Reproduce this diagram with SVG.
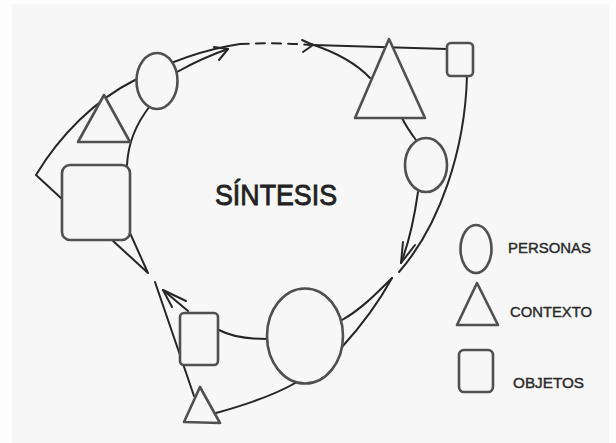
<svg xmlns="http://www.w3.org/2000/svg" width="616" height="443" viewBox="0 0 616 443">
<defs>
<style>
.shape{fill:#f7f7f7;stroke:#505050;stroke-width:2.6;stroke-linejoin:round}
.ln{fill:none;stroke:#262626;stroke-width:2;stroke-linecap:round;stroke-linejoin:round}
.dash{stroke-dasharray:9 7}
.lbl{font-family:"Liberation Sans",Arial,sans-serif;font-size:14px;fill:#2a2a2a;stroke:#2a2a2a;stroke-width:0.4}
.title{font-family:"Liberation Sans",Arial,sans-serif;font-size:30px;fill:#222;stroke:#222;stroke-width:0.9}
</style>
</defs>
<rect width="616" height="443" fill="#fdfdfd"/>
<rect x="12" y="4" width="597" height="439" fill="#f7f7f7"/>
<g id="connectors">
<path class="ln" d="M62,199 L36,175 C60,135 95,100 135,80 C165,64 200,50 240,44"/>
<path class="ln dash" d="M240,44 C262,43 290,43 310,45"/>
<path class="ln" d="M302,40 L313,45 L303,52"/>
<path class="ln" d="M313,45 L447,49"/>
<path class="ln" d="M311,44 C335,52 355,62 370,78"/>
<path class="ln" d="M127,165 C128,145 135,125 150,106"/>
<path class="ln" d="M177,72 C195,62 210,55 228,49"/>
<path class="ln" d="M214,47 L228,49 L219,60"/>
<path class="ln" d="M402,118 C406,126 410,132 416,140"/>
<path class="ln" d="M418,192 C414,220 408,245 401,263"/>
<path class="ln" d="M403,242 L401,263 L415,245"/>
<path class="ln" d="M467,76 C465,150 440,225 399,272"/>
<path class="ln" d="M392,278 C375,295 360,310 342,320"/>
<path class="ln" d="M392,278 C380,300 362,325 342,347"/>
<path class="ln" d="M219,330 C232,337 250,339 267,339"/>
<path class="ln" d="M216,413 C245,405 275,395 297,382"/>
<path class="ln" d="M155,282 L194,396"/>
<path class="ln" d="M188,311 L163,290"/>
<path class="ln" d="M186,301 L163,290 L172,307"/>
<path class="ln" d="M112,240 L148,273 L130,233"/>
</g>
<g id="oval-top"><ellipse class="shape" cx="157" cy="81" rx="20.5" ry="28"/></g>
<g id="triangle-left"><polygon class="shape" points="104,95 78,142 130,142"/></g>
<g id="square-left"><rect class="shape" x="62" y="165" width="68" height="75" rx="8"/></g>
<g id="triangle-top"><polygon class="shape" points="389,39 355,118 425,118"/></g>
<g id="square-top"><rect class="shape" x="447" y="43" width="26" height="33" rx="4"/></g>
<g id="oval-right"><ellipse class="shape" cx="426" cy="165" rx="21" ry="27"/></g>
<g id="circle-bottom"><ellipse class="shape" cx="305" cy="336" rx="38" ry="47.5"/></g>
<g id="square-bottom"><rect class="shape" x="180" y="313" width="38" height="52" rx="4"/></g>
<g id="triangle-bottom"><polygon class="shape" points="200,387 184,422 220,423"/></g>
<g id="title"><text class="title" x="215" y="205" textLength="122" lengthAdjust="spacingAndGlyphs">SÍNTESIS</text></g>
<g id="legend-personas">
<ellipse class="shape" cx="476" cy="249" rx="15.5" ry="24"/>
<text class="lbl" x="508" y="253" textLength="83" lengthAdjust="spacingAndGlyphs">PERSONAS</text>
</g>
<g id="legend-contexto">
<polygon class="shape" points="477,283 457,325 498,325"/>
<text class="lbl" x="510" y="317" textLength="82" lengthAdjust="spacingAndGlyphs">CONTEXTO</text>
</g>
<g id="legend-objetos">
<rect class="shape" x="459" y="350" width="34" height="42" rx="5"/>
<text class="lbl" x="513" y="388" textLength="71" lengthAdjust="spacingAndGlyphs">OBJETOS</text>
</g>
</svg>
